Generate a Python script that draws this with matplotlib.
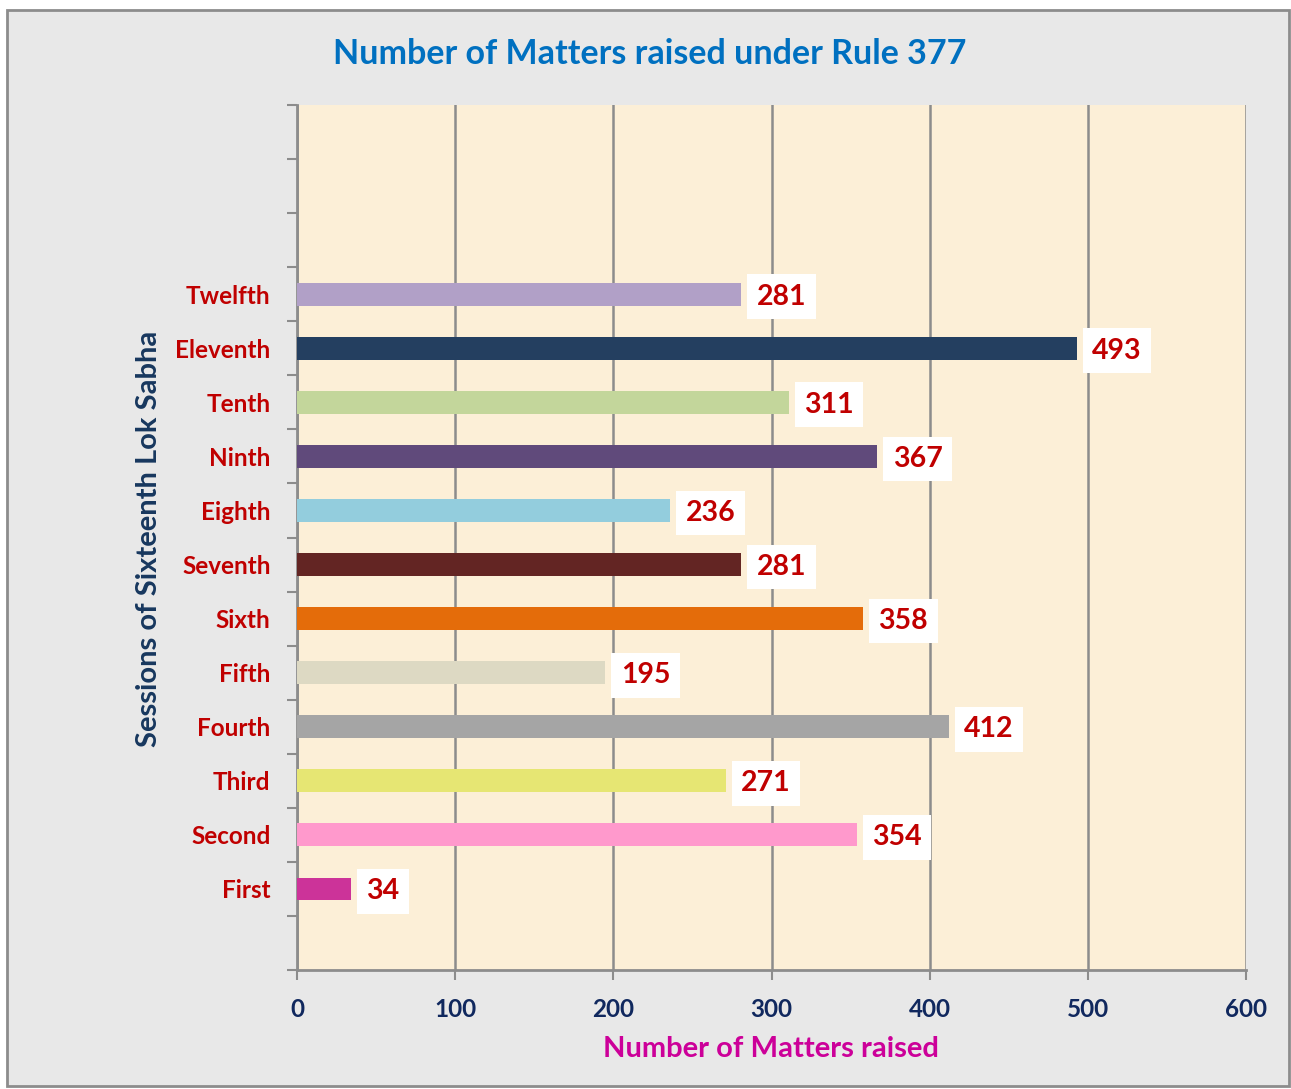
import matplotlib.pyplot as plt
from matplotlib.patches import Rectangle

# data, bottom to top
sessions = ['First', 'Second', 'Third', 'Fourth', 'Fifth', 'Sixth',
            'Seventh', 'Eighth', 'Ninth', 'Tenth', 'Eleventh', 'Twelfth']
matters = [34, 354, 271, 412, 195, 358, 281, 236, 367, 311, 493, 281]
bar_colors = ['#cc3399', '#ff99cc', '#e6e673', '#a5a5a5', '#ddd9c3', '#e46c0a',
              '#632523', '#93cddd', '#604a7b', '#c3d69b', '#243f60', '#b1a0c7']
xticks = [0, 100, 200, 300, 400, 500, 600]

plt.rcParams['font.family'] = ['Lato', 'DejaVu Sans']

fig = plt.figure(figsize=(12.91, 10.89), dpi=100)
fig.patch.set_facecolor('white')

# grey panel behind the chart
fig.patches.append(Rectangle((7 / 1291, 1 - 1086 / 1089), 1282 / 1291, 1076 / 1089,
                             transform=fig.transFigure, facecolor='#e8e8e8',
                             edgecolor='#8c8c8c', linewidth=2, zorder=-1))

ax = fig.add_axes([297 / 1291, 1 - 970 / 1089, 949 / 1291, 865 / 1089])
ax.set_zorder(1)
ax.set_facecolor('#fcefd7')

ypos = list(range(1, len(sessions) + 1))
ax.barh(ypos, matters, height=0.42, color=bar_colors, zorder=3)

for y, v in zip(ypos, matters):
    ax.annotate(str(v), xy=(v, y), xytext=(11, 0), textcoords='offset points',
                ha='left', va='center_baseline', fontsize=20.5, fontweight='bold', color='#c00000',
                bbox=dict(boxstyle='square,pad=0.33', facecolor='white', edgecolor='none'),
                zorder=4)

ax.set_xlim(0, 600)
ax.set_ylim(-0.5, 15.5)
ax.set_xticks(xticks)
ax.set_xticklabels([str(t) for t in xticks], fontsize=17.5, fontweight='bold', color='#10285e')
ax.set_yticks(ypos)
ax.set_yticklabels(sessions, fontsize=17.5, fontweight='bold', color='#c00000')
ax.set_yticks([i - 0.5 for i in range(17)], minor=True)
ax.tick_params(axis='y', which='major', length=0, pad=19)
ax.tick_params(axis='y', which='minor', length=7, width=1.5, color='#8c8c8c', direction='out')
ax.tick_params(axis='x', length=7, width=1.5, color='#8c8c8c', pad=13)

ax.grid(axis='x', color='#8c8c8c', linewidth=1.8, zorder=1)
for side in ['top', 'right']:
    ax.spines[side].set_visible(False)
for side in ['left', 'bottom']:
    ax.spines[side].set_color('#8c8c8c')
    ax.spines[side].set_linewidth(2)

fig.text(650 / 1291, 1 - 54 / 1089, 'Number of Matters raised under Rule 377',
         ha='center', va='center', fontsize=24.5, fontweight='bold', color='#0070c0')
fig.text(149 / 1291, 1 - 539 / 1089, 'Sessions of Sixteenth Lok Sabha', rotation=90,
         ha='center', va='center', fontsize=21, fontweight='bold', color='#17375e')
fig.text(771 / 1291, 1 - 1049 / 1089, 'Number of Matters raised',
         ha='center', va='center', fontsize=21, fontweight='bold', color='#cc0099')

fig.savefig('out.png', dpi=100, facecolor=fig.get_facecolor())
